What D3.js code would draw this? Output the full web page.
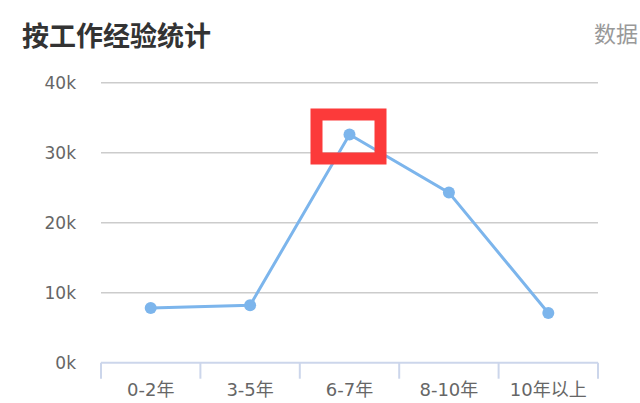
<!DOCTYPE html>
<html>
<head>
<meta charset="utf-8">
<script src="https://d3js.org/d3.v7.min.js"></script>
<style>
  body { margin: 0; background: #fff; }
  svg { display: block; font-family: "Noto Sans CJK SC", "Noto Sans", sans-serif; }
</style>
</head>
<body>
<script>
  // data
  var categories = ["0-2年", "3-5年", "6-7年", "8-10年", "10年以上"];
  var values = [7800, 8200, 32600, 24300, 7100];
  var yTicks = [0, 10000, 20000, 30000, 40000];

  var width = 640, height = 403;
  var plotLeft = 101, plotRight = 598, plotTop = 82.7, plotBottom = 362.7;
  var labelFont = "'DejaVu Sans', 'Noto Sans CJK SC', sans-serif";

  var svg = d3.select("body")
    .append("svg")
    .attr("width", width)
    .attr("height", height);

  // title + source note on the right edge
  svg.append("text")
    .attr("x", 22)
    .attr("y", 46)
    .style("font-size", "27px")
    .style("font-weight", "bold")
    .style("fill", "#333")
    .text("按工作经验统计");

  svg.append("text")
    .attr("x", 594)
    .attr("y", 42)
    .style("font-size", "22px")
    .style("fill", "#999")
    .text("数据");

  var x = d3.scaleBand().domain(categories).range([plotLeft, plotRight]);
  var y = d3.scaleLinear().domain([0, 40000]).range([plotBottom, plotTop]);

  // grid lines
  svg.selectAll("line.grid")
    .data(yTicks.slice(1))
    .enter()
    .append("line")
    .attr("class", "grid")
    .attr("x1", plotLeft)
    .attr("x2", plotRight)
    .attr("y1", function(d){ return y(d); })
    .attr("y2", function(d){ return y(d); })
    .style("stroke", "#cccccc")
    .style("stroke-width", 1.5);

  // y labels
  svg.selectAll("text.ylab")
    .data(yTicks)
    .enter()
    .append("text")
    .attr("class", "ylab")
    .attr("x", 76)
    .attr("y", function(d){ return y(d); })
    .attr("dy", "0.36em")
    .attr("text-anchor", "end")
    .style("font-family", labelFont)
    .style("font-size", "17px")
    .style("fill", "#666")
    .text(function(d){ return (d / 1000) + "k"; });

  // x axis line and ticks
  svg.append("line")
    .attr("x1", plotLeft).attr("x2", plotRight)
    .attr("y1", plotBottom).attr("y2", plotBottom)
    .style("stroke", "#ccd6eb")
    .style("stroke-width", 2);

  var bounds = categories.map(function(d){ return x(d); }).concat([plotRight]);
  svg.selectAll("line.tick")
    .data(bounds)
    .enter()
    .append("line")
    .attr("class", "tick")
    .attr("x1", function(d){ return d; })
    .attr("x2", function(d){ return d; })
    .attr("y1", plotBottom)
    .attr("y2", plotBottom + 16)
    .style("stroke", "#ccd6eb")
    .style("stroke-width", 2);

  svg.selectAll("text.xlab")
    .data(categories)
    .enter()
    .append("text")
    .attr("class", "xlab")
    .attr("x", function(d){ return x(d) + x.bandwidth() / 2; })
    .attr("y", 396)
    .attr("text-anchor", "middle")
    .style("font-family", labelFont)
    .style("font-size", "18px")
    .style("fill", "#666")
    .text(function(d){ return d; });

  // line + markers
  var line = d3.line()
    .x(function(d, i){ return x(categories[i]) + x.bandwidth() / 2; })
    .y(function(d){ return y(d); });

  svg.append("path")
    .datum(values)
    .attr("d", line)
    .style("fill", "none")
    .style("stroke", "#7cb5ec")
    .style("stroke-width", 3);

  svg.selectAll("circle")
    .data(values)
    .enter()
    .append("circle")
    .attr("cx", function(d, i){ return x(categories[i]) + x.bandwidth() / 2; })
    .attr("cy", function(d){ return y(d); })
    .attr("r", 6)
    .style("fill", "#7cb5ec");

  // red highlight box around the peak
  var peak = values.indexOf(d3.max(values));
  var px = x(categories[peak]) + x.bandwidth() / 2, py = y(values[peak]);
  svg.append("rect")
    .attr("x", px - 33)
    .attr("y", py - 20)
    .attr("width", 64)
    .attr("height", 44)
    .style("fill", "none")
    .style("stroke", "#fc3a3a")
    .style("stroke-width", 12);
</script>
</body>
</html>
